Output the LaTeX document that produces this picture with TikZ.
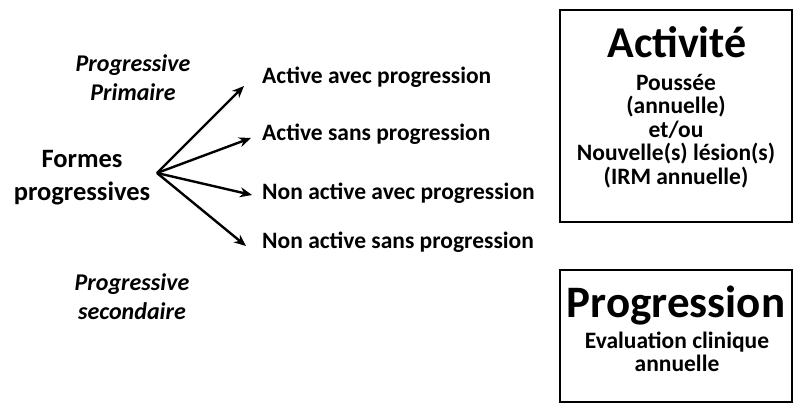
\documentclass[tikz,border=0pt]{standalone}
\usepackage{fontspec}
\setmainfont{Carlito}
\usetikzlibrary{arrows.meta}

\tikzset{
  lbl/.style={font=\bfseries\fontsize{23.5}{28}\selectfont, inner sep=0pt},
  typ/.style={font=\bfseries\itshape\fontsize{24}{29}\selectfont, align=center, inner sep=0pt},
  cadre/.style={draw, line width=2pt},
  titre/.style={font=\bfseries\fontsize{44}{48}\selectfont, inner sep=0pt},
  sous/.style={font=\bfseries\fontsize{23.5}{23.5}\selectfont, align=center, inner sep=0pt},
  fl/.style={-{Stealth[length=12pt,width=10pt]}, line width=2.4pt}
}

\begin{document}
\begin{tikzpicture}[x=1pt,y=-1pt]
\useasboundingbox (0,0) rectangle (795,405);

% cote gauche
\node[typ] (prim) at (133,78) {Progressive\\Primaire};
\node[font=\bfseries\fontsize{26.5}{33}\selectfont, align=center, inner sep=0pt] (formes) at (82,178) {Formes\\progressives};
\node[typ] (sec) at (132,297) {Progressive\\secondaire};

\coordinate (o) at (157,173);

% formes
\node[lbl, anchor=west] (aap) at (262,77) {Active avec progression};
\node[lbl, anchor=west] (asp) at (262,134) {Active sans progression};
\node[lbl, anchor=west] (nap) at (262,193) {Non active avec progression};
\node[lbl, anchor=west] (nsp) at (262,242) {Non active sans progression};

\draw[fl] (o) -- (244,86);
\draw[fl] (o) -- (251,138);
\draw[fl] (o) -- (252,195);
\draw[fl] (o) -- (246,246);

% cadres
\draw[cadre] (560,10) rectangle (792,222);
\node[titre, anchor=base] (act) at (677,57) {Activité};
\node[sous] (actd) at (676,131) {Poussée\\(annuelle)\\et/ou\\Nouvelle(s) lésion(s)\\(IRM annuelle)};

\draw[cadre] (560,270) rectangle (792,402);
\node[titre, anchor=base, font=\bfseries\fontsize{45}{50}\selectfont] (prog) at (676,317) {Progression};
\node[sous] (progd) at (677,352) {Evaluation clinique\\annuelle};

\end{tikzpicture}
\end{document}
